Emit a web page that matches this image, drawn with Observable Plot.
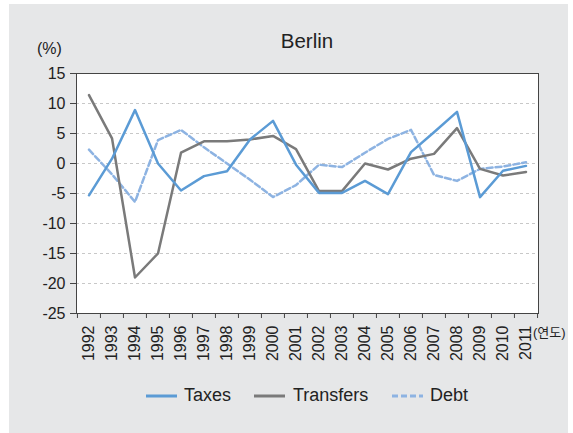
<!DOCTYPE html>
<html>
<head>
<meta charset="utf-8">
<script src="https://cdn.jsdelivr.net/npm/d3@7"></script>
<script src="https://cdn.jsdelivr.net/npm/@observablehq/plot@0.6"></script>
<style>
  html, body { margin: 0; padding: 0; background: #ffffff; }
  #root { position: relative; width: 573px; height: 433px; overflow: hidden; font-family: "Liberation Sans", Arial, sans-serif; color: #222; }
  #bg { position: absolute; left: 9px; top: 4px; width: 559px; height: 429px; background: #e6e7e8; }
  #chart { position: absolute; left: 0; top: 0; }
  .lbl { position: absolute; white-space: nowrap; line-height: 1; }
  .leg { position: absolute; top: 386px; font-size: 18px; line-height: 1; white-space: nowrap; }
  .sw { position: absolute; }
</style>
</head>
<body>
<div id="root">
  <div id="bg"></div>
  <div id="chart"></div>
  <div class="lbl" id="title" style="left:207px; width:200px; text-align:center; top:31px; font-size:20.5px;">Berlin</div>
  <div class="lbl" style="left:37px; top:41px; font-size:16px;">(%)</div>
  <div class="lbl" style="left:533px; top:326px; font-size:13px; font-family:'Liberation Sans','Noto Sans CJK KR',sans-serif;">(연도)</div>
  <div id="legend"></div>
</div>
<script>
const years = ["1992","1993","1994","1995","1996","1997","1998","1999","2000","2001",
               "2002","2003","2004","2005","2006","2007","2008","2009","2010","2011"];
const taxes     = [-5.3, 0.8, 8.9, 0.0, -4.5, -2.1, -1.3, 4.0, 7.1, -0.2, -4.9, -4.9, -2.9, -5.1, 1.9, 5.2, 8.6, -5.6, -1.2, -0.4];
const transfers = [11.4, 4.2, -19.0, -15.0, 1.8, 3.7, 3.7, 4.0, 4.6, 2.4, -4.6, -4.6, 0.0, -1.0, 0.8, 1.6, 5.9, -0.9, -2.0, -1.4];
const debt      = [2.3, -1.8, -6.4, 3.9, 5.6, 2.7, 0.0, -2.7, -5.6, -3.6, -0.2, -0.6, 1.8, 4.1, 5.6, -1.9, -2.9, -0.9, -0.5, 0.2];
const seriesNames = ["Taxes", "Transfers", "Debt"];
const seriesColors = ["#5b9bd5", "#7a7a7a", "#8db3e2"];
const yTicks = [15, 10, 5, 0, -5, -10, -15, -20, -25];
const gridTicks = [10, 5, 0, -5, -10, -15, -20];

const toRows = (name, vals) => years.map((y, i) => ({year: y, series: name, value: vals[i]}));
const rowsTaxes = toRows("Taxes", taxes);
const rowsTransfers = toRows("Transfers", transfers);
const rowsDebt = toRows("Debt", debt);

const W = 573, H = 433, mL = 76, mR = 35, mT = 73, mB = 120;
const bw = (W - mL - mR) / years.length;

const chart = Plot.plot({
  width: W, height: H,
  marginLeft: mL, marginRight: mR, marginTop: mT, marginBottom: mB,
  style: {background: "transparent", fontFamily: "Liberation Sans, Arial, sans-serif", color: "#222", overflow: "visible"},
  x: {type: "band", domain: years, padding: 0, label: null},
  y: {domain: [-25, 15], label: null},
  marks: [
    Plot.frame({fill: "white"}),
    Plot.ruleY(gridTicks, {stroke: "#c8c8c8", strokeDasharray: "3,3", strokeWidth: 1}),
    Plot.line(rowsDebt, {x: "year", y: "value", stroke: seriesColors[2], strokeWidth: 2.5, strokeDasharray: "6,3"}),
    Plot.line(rowsTransfers, {x: "year", y: "value", stroke: seriesColors[1], strokeWidth: 2.5}),
    Plot.line(rowsTaxes, {x: "year", y: "value", stroke: seriesColors[0], strokeWidth: 2.5}),
    Plot.frame({stroke: "#444", strokeWidth: 1}),
    Plot.axisY(yTicks, {tickSize: 6, tickPadding: 5, fontSize: 16, stroke: "#444", fill: "#222", tickFormat: d => String(d)}),
    Plot.axisX({tickSize: 0, tickPadding: 12, tickRotate: -90, fontSize: 16, fill: "#222"}),
    Plot.axisX({tickSize: 5, tickFormat: () => "", dx: -bw / 2, stroke: "#444"}),
    Plot.axisX(["2011"], {tickSize: 5, tickFormat: () => "", dx: bw / 2, stroke: "#444"})
  ]
});
document.getElementById("chart").appendChild(chart);

// Legend
const legendItems = [
  {name: seriesNames[0], color: seriesColors[0], dash: null, x1: 146, tx: 184},
  {name: seriesNames[1], color: seriesColors[1], dash: null, x1: 254, tx: 293},
  {name: seriesNames[2], color: seriesColors[2], dash: "6,3", x1: 392, tx: 430}
];
const legend = document.getElementById("legend");
for (const it of legendItems) {
  const sw = document.createElementNS("http://www.w3.org/2000/svg", "svg");
  sw.setAttribute("width", 31); sw.setAttribute("height", 6);
  sw.setAttribute("class", "sw");
  sw.style.left = it.x1 + "px"; sw.style.top = "393px";
  const ln = document.createElementNS("http://www.w3.org/2000/svg", "line");
  ln.setAttribute("x1", 0); ln.setAttribute("x2", 31); ln.setAttribute("y1", 3); ln.setAttribute("y2", 3);
  ln.setAttribute("stroke", it.color); ln.setAttribute("stroke-width", 3);
  if (it.dash) ln.setAttribute("stroke-dasharray", it.dash);
  sw.appendChild(ln);
  legend.appendChild(sw);
  const t = document.createElement("div");
  t.className = "leg"; t.style.left = it.tx + "px"; t.textContent = it.name;
  legend.appendChild(t);
}
</script>
</body>
</html>
